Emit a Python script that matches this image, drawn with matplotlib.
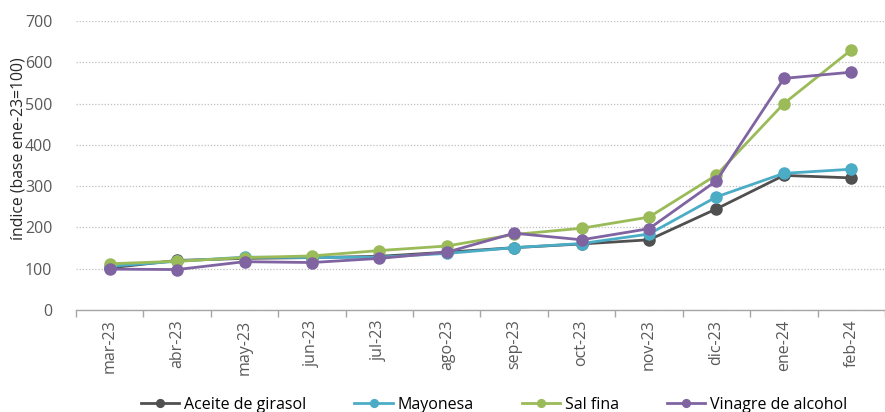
import numpy as np
import matplotlib.pyplot as plt

plt.rcParams['font.family'] = ['Open Sans', 'DejaVu Sans']

# datos
meses = ['mar-23', 'abr-23', 'may-23', 'jun-23', 'jul-23', 'ago-23',
         'sep-23', 'oct-23', 'nov-23', 'dic-23', 'ene-24', 'feb-24']
aceite = [102, 120, 125, 127, 130, 140, 151, 160, 170, 245, 326, 320]
mayonesa = [106, 118, 128, 127, 128, 137, 151, 161, 184, 274, 331, 341]
sal_fina = [112, 118, 127, 131, 144, 155, 183, 198, 225, 327, 500, 630]
vinagre = [99, 98, 117, 115, 125, 140, 186, 170, 197, 313, 561, 576]

series = [
    ('Aceite de girasol', aceite, '#505050'),
    ('Mayonesa', mayonesa, '#4BACC6'),
    ('Sal fina', sal_fina, '#9BBB59'),
    ('Vinagre de alcohol', vinagre, '#8064A2'),
]

fig = plt.figure(figsize=(8.85, 4.12), dpi=100)
ax = fig.add_axes([76 / 885, 1 - 310 / 412, 1 - 76 / 885, (310 - 21) / 412])

x = np.arange(len(meses))
for nombre, vals, color in series:
    ax.plot(x, vals, color=color, lw=2, marker='o', markersize=8,
            label=nombre, clip_on=False, zorder=3)

ax.set_ylim(0, 700)
ax.set_yticks(range(0, 701, 100))
ax.set_xlim(-0.5, 11.4)
ax.grid(axis='y', color='#BFBFBF', linestyle=(0, (1, 1.5)), lw=0.9)
ax.set_axisbelow(True)

ax.set_xticks(x)
ax.set_xticklabels(meses, rotation=90)
ax.set_xticks(np.arange(-0.5, 12, 1), minor=True)
ax.tick_params(axis='x', which='major', length=0, pad=7, labelsize=11.5, labelcolor='#595959')
ax.tick_params(axis='x', which='minor', length=5, color='#A6A6A6', width=1)
ax.tick_params(axis='y', length=0, labelsize=11.5, labelcolor='#595959', pad=17)

for s in ['top', 'right', 'left']:
    ax.spines[s].set_visible(False)
ax.spines['bottom'].set_color('#A6A6A6')
ax.spines['bottom'].set_linewidth(1)

ax.set_ylabel('índice (base ene-23=100)', fontsize=11.3, color='#262626', va='center')
ax.yaxis.set_label_coords((19 - 76) / 809, (310 - 149) / 289)

fig.legend(loc='lower center', bbox_to_anchor=(494 / 885, -0.037), ncol=4,
           frameon=False, fontsize=11.5, handlelength=2.4, columnspacing=3.0,
           handletextpad=0.3, markerscale=0.7)

fig.savefig('out.png', dpi=100)
